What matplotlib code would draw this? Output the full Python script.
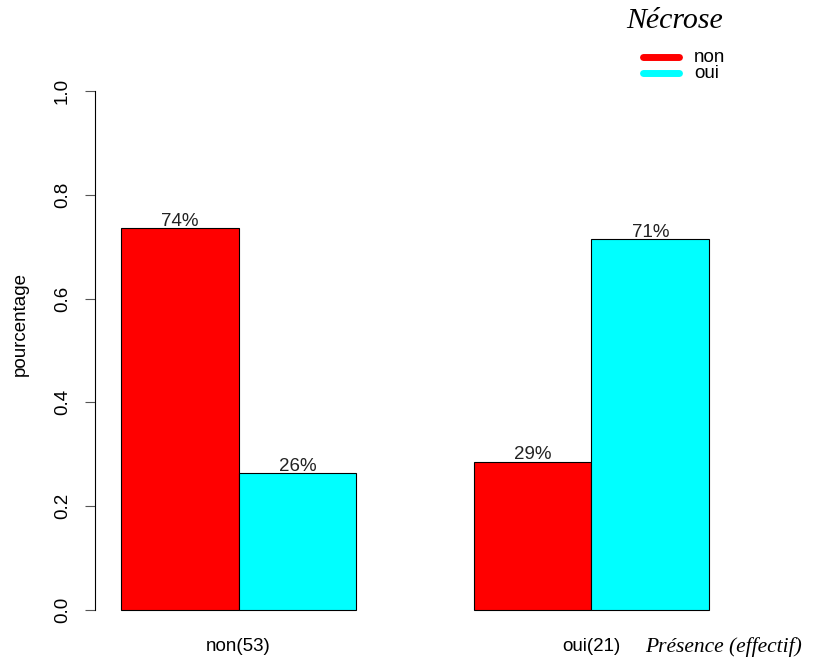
import matplotlib
matplotlib.use("Agg")
import matplotlib.pyplot as plt
from matplotlib.lines import Line2D

groups = ["non(53)", "oui(21)"]
series = ["non", "oui"]
colors = ["#FF0000", "#00FFFF"]
values_non = [0.736, 0.286]   # Nécrose = non
values_oui = [0.264, 0.714]   # Nécrose = oui
labels_non = ["74%", "29%"]
labels_oui = ["26%", "71%"]
yticks = [0.0, 0.2, 0.4, 0.6, 0.8, 1.0]

W, H = 817, 657
FS = 13.5
fig = plt.figure(figsize=(W/100, H/100), dpi=100)
plt.rcParams['font.family'] = ['Liberation Sans', 'DejaVu Sans']
ax = fig.add_axes([97.5/W, (H-630.8)/H, 635.1/W, 560.6/H])

centers = [2, 5]
for i, c in enumerate(centers):
    ax.bar(c - 0.5, values_non[i], width=1, color=colors[0], edgecolor="black", linewidth=0.8)
    ax.bar(c + 0.5, values_oui[i], width=1, color=colors[1], edgecolor="black", linewidth=0.8)
    ax.text(c - 0.5, values_non[i] - 0.003, labels_non[i], ha="center", va="bottom",
            fontsize=FS, family="Liberation Sans", color="#222222")
    ax.text(c + 0.5, values_oui[i] - 0.003, labels_oui[i], ha="center", va="bottom",
            fontsize=FS, family="Liberation Sans", color="#222222")

ax.set_xlim(0.8, 6.2)
ax.set_ylim(-0.04, 1.04)
for s in ["top", "right", "bottom"]:
    ax.spines[s].set_visible(False)
ax.spines["left"].set_bounds(0, 1)
ax.spines["left"].set_position(("outward", 2))
ax.set_yticks(yticks)
ax.set_yticklabels([f"{t:.1f}" for t in yticks], rotation=90, va="center",
                   fontsize=FS, family="Liberation Sans")
ax.tick_params(axis="y", length=7, width=0.8, pad=10, color="#555555")
ax.set_xticks(centers)
ax.set_xticklabels(groups, fontsize=FS, family="Liberation Sans")
ax.tick_params(axis="x", length=0, pad=5)

fig.text(20/W, 1-324/H, "pourcentage", fontsize=FS, family="Liberation Sans",
         rotation=90, va="center", ha="center")
fig.text(645/W, 1-647/H, "Présence (effectif)", fontsize=15.5, family="Liberation Serif",
         style="italic", va="center", ha="left")
fig.text(675/W, 1-21/H, "Nécrose", fontsize=21.5, family="Liberation Serif",
         style="italic", va="center", ha="center")

# legend drawn manually
leg_y = [57, 73]
for col, lab, yy in zip(colors, series, leg_y):
    fig.add_artist(Line2D([643/W, 679/W], [1-yy/H, 1-yy/H], color=col, lw=5,
                          solid_capstyle="round", transform=fig.transFigure))
    fig.text(694/W, 1-yy/H, lab, fontsize=FS, family="Liberation Sans",
             va="center", ha="left")

fig.savefig("out.png", dpi=100)
